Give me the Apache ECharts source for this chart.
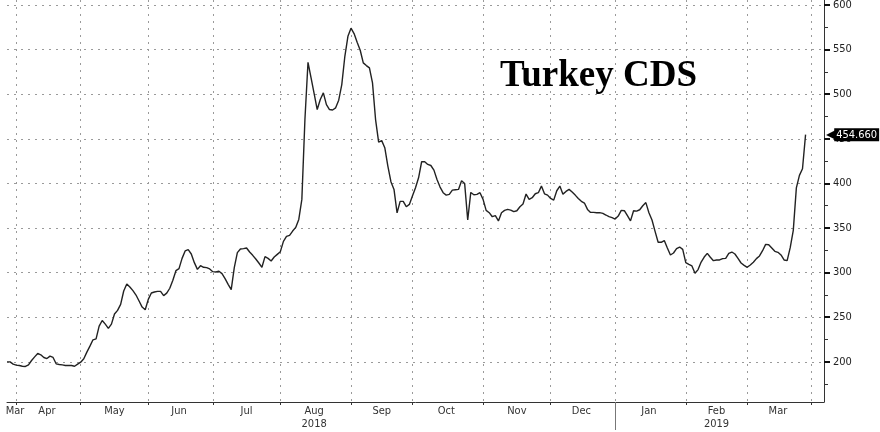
<!DOCTYPE html>
<html>
<head>
<meta charset="utf-8">
<script src="https://cdn.jsdelivr.net/npm/echarts@6/dist/echarts.min.js"></script>
<style>
html,body{margin:0;padding:0;background:#fff;}
#chart{width:880px;height:432px;}
</style>
</head>
<body>
<div id="chart"></div>
<script>
// ---- Data (Turkey 5Y CDS, one value per trading day) ----
const chartTitle = 'Turkey CDS';
const startDate = '2018-03-28';
const endDate = '2019-04-05';
const skippedDates = ['2018-05-28'];

const cdsMar18 = [200, 200, 197.4];
const cdsApr18 = [196.3, 195.9, 195.1, 194.8, 196.6, 201.5, 205.6, 209.4, 207.9, 204.9, 203.7, 206.4, 204.9, 197.8, 197, 196.6, 195.9, 195.9, 195.9, 195.1, 197.4];
const cdsMay18 = [199.6, 203.4, 210.9, 217.6, 224.7, 225.8, 240, 246.4, 242.3, 237.5, 242.3, 253.6, 257.7, 264.4, 279.4, 287.3, 283.9, 279.8, 274.9, 268.2, 261.4, 258.4];
const cdsJun18 = [270, 277.2, 278.3, 279, 279, 274.2, 277, 282.5, 291.4, 302.2, 304.5, 316, 324.3, 325.7, 320.9, 311.2, 303.7, 307.8, 306, 305.6, 304.1];
const cdsJul18 = [301.1, 300.7, 301.5, 298.9, 293.3, 286.9, 281, 305.6, 322.4, 326.5, 326.9, 327.6, 323.1, 319.4, 315.3, 310.8, 306, 317.9, 316, 313.1, 317.5, 320.5];
const cdsAug18 = [323.5, 335.1, 340.7, 341.8, 346.6, 350.7, 359.7, 382.1, 471.6, 535.8, 518.3, 500.7, 482.8, 494, 501.5, 488.4, 482.8, 482.3, 484.7, 493.3, 510.8, 542.5, 564.9];
const cdsSep18 = [574, 568, 558.2, 549.3, 535.1, 532.1, 529.5, 512.7, 471.6, 446.3, 448, 440, 419.4, 401.9, 393.3, 367, 379.9, 379.9, 373.9, 376.5];
const cdsOct18 = [385.8, 395.1, 406.3, 424.3, 424.3, 421.3, 420.1, 414.9, 404.5, 395.9, 389.6, 386.9, 387.7, 392.5, 392.9, 393.3, 403, 400, 359, 389.9, 387.3, 387.7, 389.6];
const cdsNov18 = [382.1, 369.8, 367.2, 362.7, 364, 358, 367.2, 369.8, 370.9, 370.1, 368.3, 369.4, 373.9, 376.9, 388.1, 382.1, 384, 388.4, 389.6, 397, 388.4, 386.9];
const cdsDec18 = [383.2, 381.3, 391.8, 397, 388, 391, 393.3, 390.3, 386.9, 383.2, 379.9, 378, 370.9, 367.5, 367.5, 367.2, 367.2, 366.4, 364.6, 362.7, 361.6];
const cdsJan19 = [360.1, 363.4, 369.8, 369.4, 363.8, 358, 369.4, 369, 370.5, 375, 378.5, 367.2, 359, 346.3, 334, 334, 336, 327.6, 319.8, 322, 326.9, 328.7, 326.1];
const cdsFeb19 = [311.2, 309.3, 307.5, 299.3, 303.4, 311.9, 317.5, 321.6, 317.2, 313.4, 314.2, 314.2, 315.7, 316, 321.6, 323.1, 320.9, 316, 310.8, 308.2];
const cdsMar19 = [306, 308.6, 311.6, 315.7, 318.7, 324.6, 331.7, 331.3, 327.6, 323.9, 322.8, 319.8, 314.2, 313.4, 328, 347.4, 395, 409, 416.4, 454.66];

const yTickValues = [200, 250, 300, 350, 400, 450, 500, 550, 600];
const yMinorTickValues = [175, 225, 275, 325, 375, 425, 475, 525, 575];
const yMin = 155, yMax = 605.6;
const monthNames = ['Jan', 'Feb', 'Mar', 'Apr', 'May', 'Jun', 'Jul', 'Aug', 'Sep', 'Oct', 'Nov', 'Dec'];
const yearLabels = { '2018-08': '2018', '2019-02': '2019' };

// ---- Build categories (trading days) ----
function buildDays(start, end, skip) {
  const out = [];
  const d = new Date(start + 'T00:00:00Z');
  const e = new Date(end + 'T00:00:00Z');
  while (d <= e) {
    const wd = d.getUTCDay();
    const s = d.toISOString().slice(0, 10);
    if (wd !== 0 && wd !== 6 && skip.indexOf(s) < 0) out.push(s);
    d.setUTCDate(d.getUTCDate() + 1);
  }
  return out;
}
const days = buildDays(startDate, endDate, skippedDates);
const cdsValues = [].concat(cdsMar18, cdsApr18, cdsMay18, cdsJun18, cdsJul18, cdsAug18,
  cdsSep18, cdsOct18, cdsNov18, cdsDec18, cdsJan19, cdsFeb19, cdsMar19);
const lastValue = cdsValues[cdsValues.length - 1];

// month groups
const groups = [];
days.forEach((d, i) => {
  const key = d.slice(0, 7);
  const g = groups[groups.length - 1];
  if (!g || g.key !== key) groups.push({ key: key, first: i, last: i });
  else g.last = i;
});
const monthStartIdx = {};
const labelIdx = {};
groups.forEach((g, gi) => {
  if (gi > 0) monthStartIdx[g.first] = true;
  if (g.first >= cdsValues.length) return; // month without data: no label
  const mid = Math.ceil((g.first + g.last) / 2);
  const m = monthNames[parseInt(g.key.slice(5, 7), 10) - 1];
  let txt = m;
  if (yearLabels[g.key]) txt = m + '\n' + yearLabels[g.key];
  labelIdx[mid] = gi === 0 ? '{first|' + m + '}' : txt;
});
let yearSepIdx = -1;
groups.forEach((g, gi) => {
  if (gi > 0 && g.key.slice(0, 4) !== groups[gi - 1].key.slice(0, 4)) yearSepIdx = g.first;
});

const axisFont = '"DejaVu Sans Condensed", "DejaVu Sans", sans-serif';
const gridDash = { color: '#9a9a9a', width: 1, type: [2, 5] };

const chart = echarts.init(document.getElementById('chart'), null, { renderer: 'canvas' });
chart.setOption({
  animation: false,
  backgroundColor: '#ffffff',
  title: {
    text: chartTitle,
    left: 495,
    top: 53,
    textStyle: { fontFamily: '"Liberation Serif", "Times New Roman", serif', fontWeight: 'bold', fontSize: 37, color: '#000' }
  },
  grid: { left: 7, right: 56, top: 0, bottom: 30, containLabel: false, outerBoundsMode: 'none' },
  xAxis: [{
    type: 'category',
    data: days,
    boundaryGap: false,
    position: 'bottom',
    axisLine: { show: true, lineStyle: { color: '#333', width: 1 } },
    axisTick: { show: true, length: 3, interval: (i) => !!monthStartIdx[i], lineStyle: { color: '#333' } },
    axisLabel: {
      show: true,
      interval: (i) => labelIdx[i] !== undefined,
      formatter: (v, i) => labelIdx[i] || '',
      margin: 3,
      color: '#333',
      fontFamily: axisFont,
      fontSize: 11,
      lineHeight: 13,
      rich: { first: { padding: [0, 0, 0, 10], color: '#333', fontFamily: axisFont, fontSize: 11 } }
    },
    splitLine: { show: true, interval: (i) => !!monthStartIdx[i], lineStyle: gridDash }
  }, {
    type: 'category',
    data: days,
    boundaryGap: false,
    position: 'bottom',
    offset: 0,
    axisLine: { show: false },
    axisLabel: { show: false },
    splitLine: { show: false },
    axisTick: { show: true, length: 28, interval: (i) => i === yearSepIdx, lineStyle: { color: '#777', width: 1 } }
  }],
  yAxis: [{
    type: 'value',
    position: 'right',
    min: yMin,
    max: yMax,
    axisLine: { show: true, lineStyle: { color: '#333', width: 1 } },
    axisTick: { show: true, length: 6, customValues: yTickValues, lineStyle: { color: '#111', width: 2 } },
    axisLabel: { show: true, customValues: yTickValues, margin: 9, color: '#222', fontFamily: axisFont, fontSize: 11 },
    splitLine: { show: true, lineStyle: gridDash }
  }, {
    type: 'value',
    position: 'right',
    offset: 0,
    min: yMin,
    max: yMax,
    axisLine: { show: false },
    axisLabel: { show: false },
    splitLine: { show: false },
    axisTick: { show: true, length: 4, customValues: yMinorTickValues, lineStyle: { color: '#333', width: 1 } }
  }],
  series: [{
    type: 'line',
    xAxisIndex: 0,
    yAxisIndex: 0,
    data: cdsValues,
    showSymbol: false,
    symbol: 'none',
    lineStyle: { color: '#222', width: 1.4 },
    silent: true,
    markLine: {
      silent: true,
      symbol: 'none',
      animation: false,
      lineStyle: { color: 'rgba(0,0,0,0)', width: 1, type: 'solid' },
      label: {
        show: true,
        position: 'end',
        distance: 2,
        opacity: 1,
        formatter: () => '{a|\u25C0}{b|' + lastValue.toFixed(3) + '}',
        rich: {
          a: { color: '#000', fontSize: 12, fontFamily: '"DejaVu Sans", sans-serif', padding: [0, -1, 0, 0] },
          b: { color: '#fff', backgroundColor: '#000', fontSize: 11, fontFamily: axisFont, padding: [1, 2, 1, 2] }
        }
      },
      data: [{ yAxis: lastValue }]
    }
  }]
});
</script>
</body>
</html>
